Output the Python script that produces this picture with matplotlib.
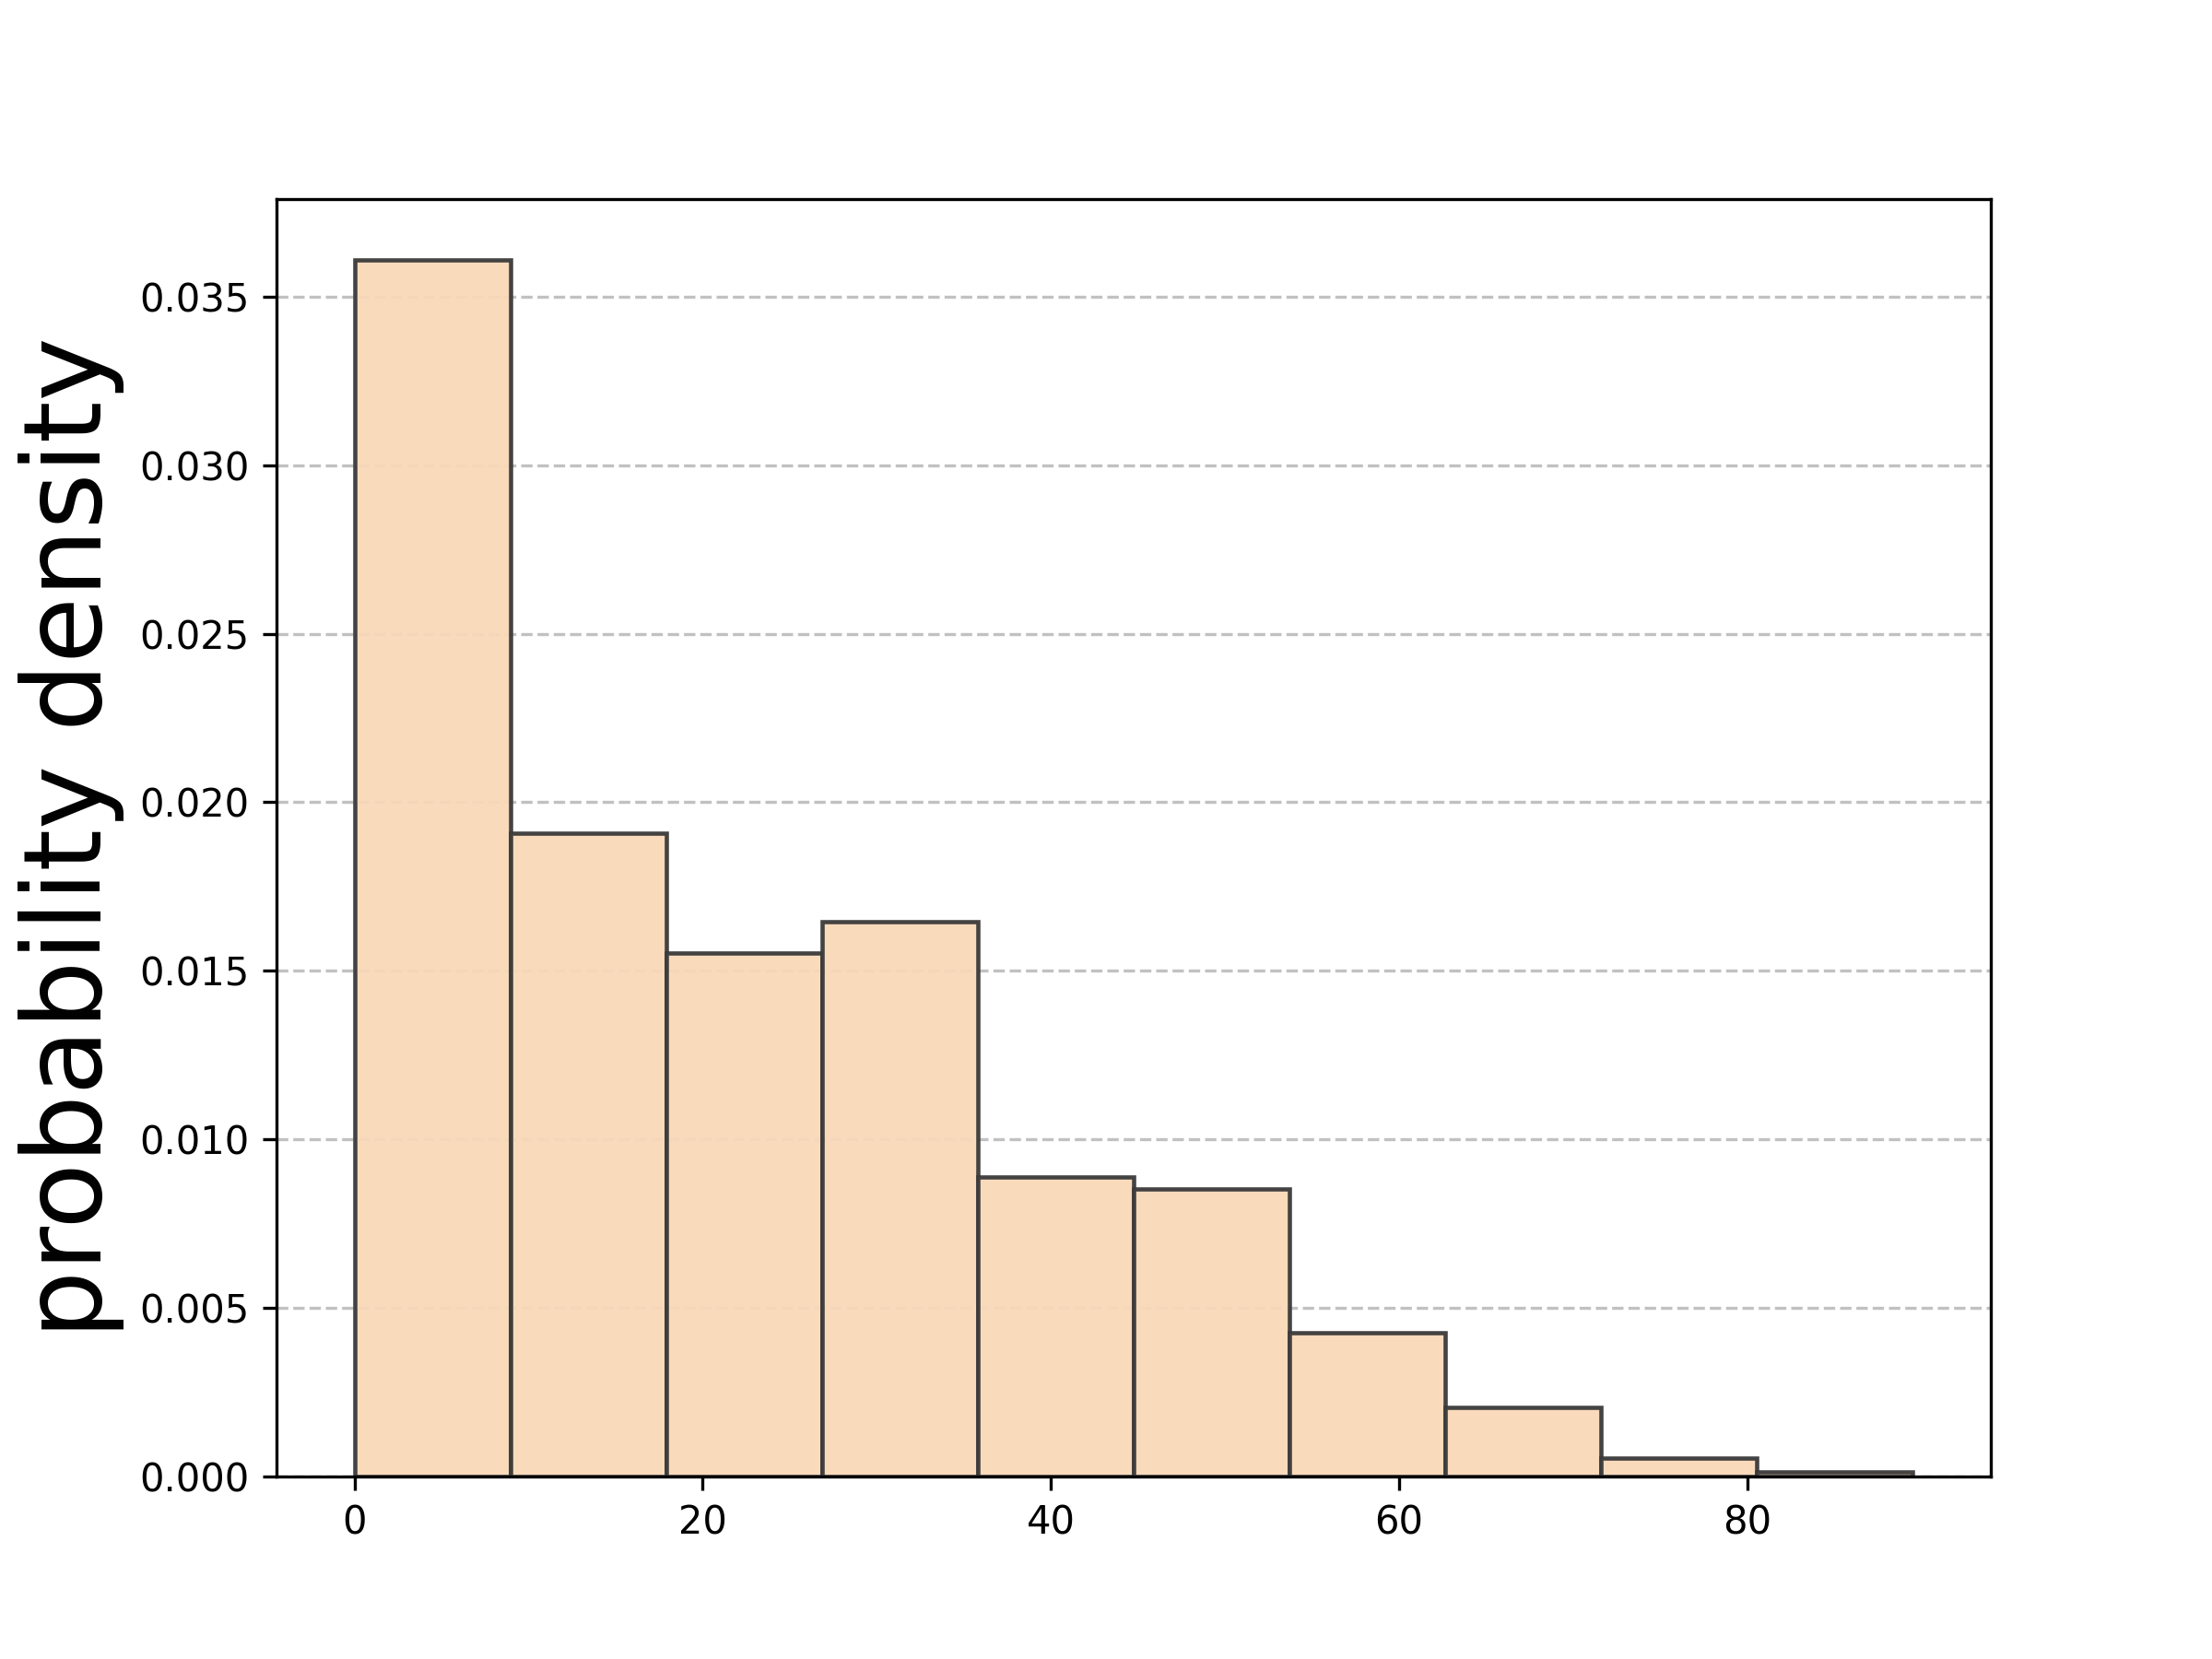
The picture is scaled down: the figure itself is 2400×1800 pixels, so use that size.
import matplotlib
matplotlib.use("Agg")
import matplotlib.pyplot as plt
import numpy as np

bin_edges = [0.0, 8.95, 17.9, 26.85, 35.8, 44.75, 53.7, 62.65, 71.6, 80.55, 89.5]
densities = [0.03609, 0.01909, 0.01553, 0.01645, 0.00888, 0.00854, 0.00427, 0.00205, 0.00054, 0.00013]

fig, ax = plt.subplots(figsize=(8, 6), dpi=300)
ax.yaxis.grid(True, linestyle='--', color='#bbbbbb', alpha=0.9, zorder=0)
ax.set_axisbelow(True)
ax.hist(bin_edges[:-1], bins=bin_edges, weights=densities,
        color='#f9d8b8', edgecolor='#3a3a3a', linewidth=1.1, alpha=0.95, zorder=2)
ax.set_ylabel('probability density', fontsize=28)
ax.set_xticks([0, 20, 40, 60, 80])
fig.savefig('out.png', dpi=300)
